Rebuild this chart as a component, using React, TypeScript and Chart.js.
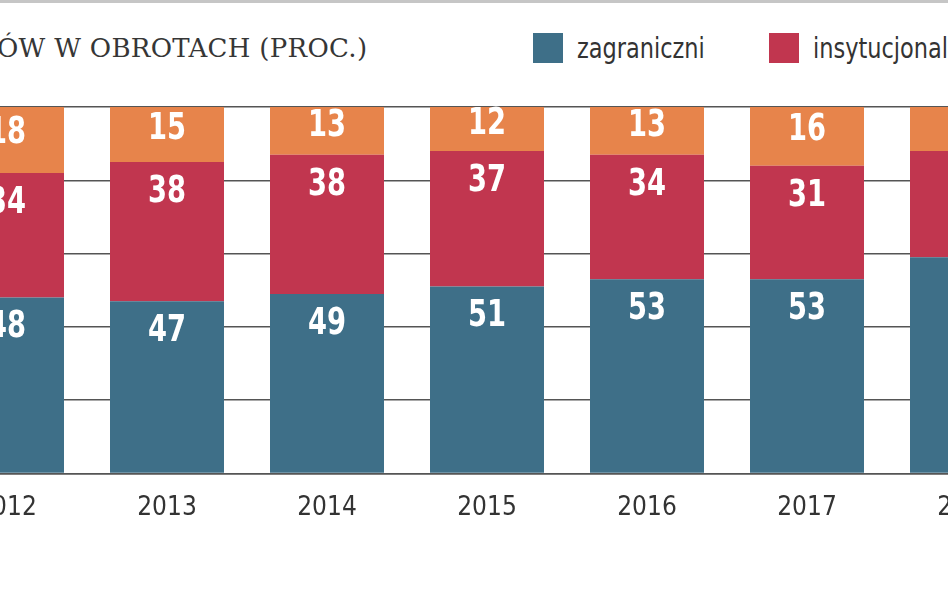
import React, { useEffect, useRef } from 'react';
import { Chart, registerables } from 'chart.js';

Chart.register(...registerables);

const years = ['2012', '2013', '2014', '2015', '2016', '2017', '2018'];
const zagraniczni = [48, 47, 49, 51, 53, 53, 59];
const instytucjonalni = [34, 38, 38, 37, 34, 31, 29];
const indywidualni = [18, 15, 13, 12, 13, 16, 12];
const yTickValues = [0, 20, 40, 60, 80, 100];

const TEAL = '#3e6f88';
const RED = '#c1364f';
const ORANGE = '#e7844b';
const NARROW = '"DejaVu Sans Condensed", "Liberation Sans Narrow", sans-serif';

const valueLabels = {
  id: 'valueLabels',
  afterDatasetsDraw(chart: any) {
    const ctx = chart.ctx;
    chart.data.datasets.forEach((ds: any, di: number) => {
      const meta = chart.getDatasetMeta(di);
      meta.data.forEach((el: any, i: number) => {
        const top = Math.min(el.y, el.base);
        const h = Math.abs(el.base - el.y);
        ctx.save();
        ctx.fillStyle = '#ffffff';
        ctx.font = `bold 38px ${NARROW}`;
        ctx.textAlign = 'center';
        ctx.textBaseline = 'middle';
        ctx.translate(el.x, top + Math.min(30, h * 0.4));
        ctx.scale(0.8, 1);
        ctx.fillText(String(ds.data[i]), 0, 0);
        ctx.restore();
      });
    });
  },
};

export default function App() {
  const canvasRef = useRef<HTMLCanvasElement | null>(null);

  useEffect(() => {
    if (!canvasRef.current) return;
    const chart = new Chart(canvasRef.current, {
      type: 'bar',
      data: {
        labels: years,
        datasets: [
          { label: 'zagraniczni', data: zagraniczni, backgroundColor: TEAL, borderWidth: 0 },
          { label: 'insytucjonalni', data: instytucjonalni, backgroundColor: RED, borderWidth: 0 },
          { label: 'indywidualni', data: indywidualni, backgroundColor: ORANGE, borderWidth: 0 },
        ],
      },
      options: {
        animation: false,
        responsive: false,
        maintainAspectRatio: false,
        devicePixelRatio: 1,
        layout: { padding: { top: 107, left: 0, right: 0, bottom: 0 } },
        datasets: { bar: { barPercentage: 0.7125, categoryPercentage: 1 } },
        plugins: { legend: { display: false }, tooltip: { enabled: false } },
        scales: {
          x: {
            stacked: true,
            offset: true,
            z: 1,
            grid: { display: false, drawTicks: false },
            border: { display: true, color: '#555555', width: 1.5 },
            ticks: {
              color: '#333333',
              font: { family: NARROW, size: 26 },
              padding: 19,
              maxRotation: 0,
              autoSkip: false,
            },
            afterFit: (s: any) => { s.height = 119.5; },
          },
          y: {
            stacked: true,
            min: 0,
            max: 100,
            grid: { color: '#555555', lineWidth: 1.5, drawTicks: false },
            border: { display: false },
            ticks: { display: false, stepSize: 20 },
            afterBuildTicks: (s: any) => { s.ticks = yTickValues.map((v) => ({ value: v })); },
            afterFit: (s: any) => { s.width = 0; },
          },
        },
      },
      plugins: [valueLabels],
    });
    return () => chart.destroy();
  }, []);

  const legendText: React.CSSProperties = {
    position: 'absolute',
    top: 30,
    fontFamily: NARROW,
    fontSize: 29,
    lineHeight: '36px',
    color: '#333333',
    whiteSpace: 'nowrap',
    transform: 'scaleX(0.86)',
    transformOrigin: 'left center',
  };

  return (
    <div
      style={{
        position: 'absolute',
        left: 0,
        top: 0,
        width: 948,
        height: 593,
        overflow: 'hidden',
        background: '#ffffff',
      }}
    >
      <div style={{ position: 'absolute', left: 0, top: 0, width: 948, height: 3, background: '#c6c6c6' }} />
      <div
        style={{
          position: 'absolute',
          left: -3,
          top: 30,
          fontFamily: '"DejaVu Serif", serif',
          fontSize: 26,
          letterSpacing: 0.3,
          color: '#363636',
          whiteSpace: 'nowrap',
          lineHeight: '36px',
        }}
      >
        ÓW W OBROTACH (PROC.)
      </div>
      <div style={{ position: 'absolute', left: 533, top: 33, width: 30, height: 30, background: TEAL }} />
      <div style={{ ...legendText, left: 577 }}>zagraniczni</div>
      <div style={{ position: 'absolute', left: 769, top: 33, width: 30, height: 30, background: RED }} />
      <div style={{ ...legendText, left: 813 }}>insytucjonalni</div>
      <canvas
        ref={canvasRef}
        width={1120}
        height={593}
        style={{ position: 'absolute', left: -73, top: 0, width: 1120, height: 593 }}
      />
    </div>
  );
}
